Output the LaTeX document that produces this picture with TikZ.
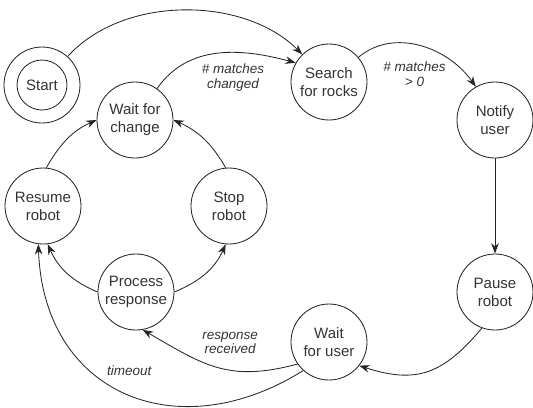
\documentclass[tikz,border=0pt]{standalone}
\usepackage{fontspec}
\setmainfont{Liberation Sans}
\usetikzlibrary{arrows.meta}

\begin{document}
\begin{tikzpicture}[x=1cm,y=1cm,
  stnode/.style={draw=black!85,circle,line width=0.6pt,minimum size=1.9cm,inner sep=0pt,align=center,text=black!80,font=\fontsize{10.7}{12.8}\selectfont},
  lbl/.style={font=\itshape\fontsize{9.6}{10.6}\selectfont,text=black!80,align=center},
  trans/.style={draw=black!85,line width=0.6pt,-{Stealth[length=2.6mm,width=1.9mm]}}]
\useasboundingbox (0,0) rectangle (13.325,-10.175);
% states
\node[stnode] (start) at (1.05,-2.125) {};
\node[stnode,minimum size=1.25cm] (startin) at (start) {Start};
\node[stnode] (search) at (8.225,-2.05) {Search\\for rocks};
\node[stnode] (notify) at (12.375,-3.0) {Notify\\user};
\node[stnode] (pause) at (12.375,-7.3) {Pause\\robot};
\node[stnode] (wfu) at (8.225,-8.55) {Wait\\for user};
\node[stnode] (pr) at (3.4,-7.3) {Process\\response};
\node[stnode] (resume) at (1.075,-5.15) {Resume\\robot};
\node[stnode] (stop) at (5.725,-5.15) {Stop\\robot};
\node[stnode] (wfc) at (3.375,-3.0) {Wait for\\change};
% transitions
\draw[trans] (start.48) to[out=48,in=135,looseness=0.9] (search.134);
\draw[trans] (wfc.55) to[out=55,in=165] node[lbl,pos=0.6,yshift=-0.62cm] {\# matches\\changed} (search.150);
\draw[trans] (search.40) to[out=40,in=125] node[lbl,pos=0.5,xshift=-0.15cm,yshift=-0.7cm] {\# matches\\> 0} (notify.120);
\draw[trans] (notify) -- (pause);
\draw[trans] (pause.-110) to[out=230,in=-18,looseness=1.2] (wfu.-38);
\draw[trans] (wfu.215) to[out=195,in=-30,looseness=1.15] node[lbl,pos=0.45,xshift=0.15cm,yshift=0.65cm] {response\\received} (pr.-80);
\draw[trans] (wfu.228) to[out=212,in=-88,looseness=1.3] node[lbl,pos=0.5,xshift=0.1cm,yshift=0.55cm] {timeout} (resume.-97);
\draw[trans] (pr.180) to[out=157,in=-66] (resume.-83);
\draw[trans] (pr.0) to[out=23,in=-114] (stop.-95);
\draw[trans] (resume.85) to[out=60,in=-156] (wfc.180);
\draw[trans] (stop.95) to[out=120,in=-24] (wfc.0);
\end{tikzpicture}
\end{document}
